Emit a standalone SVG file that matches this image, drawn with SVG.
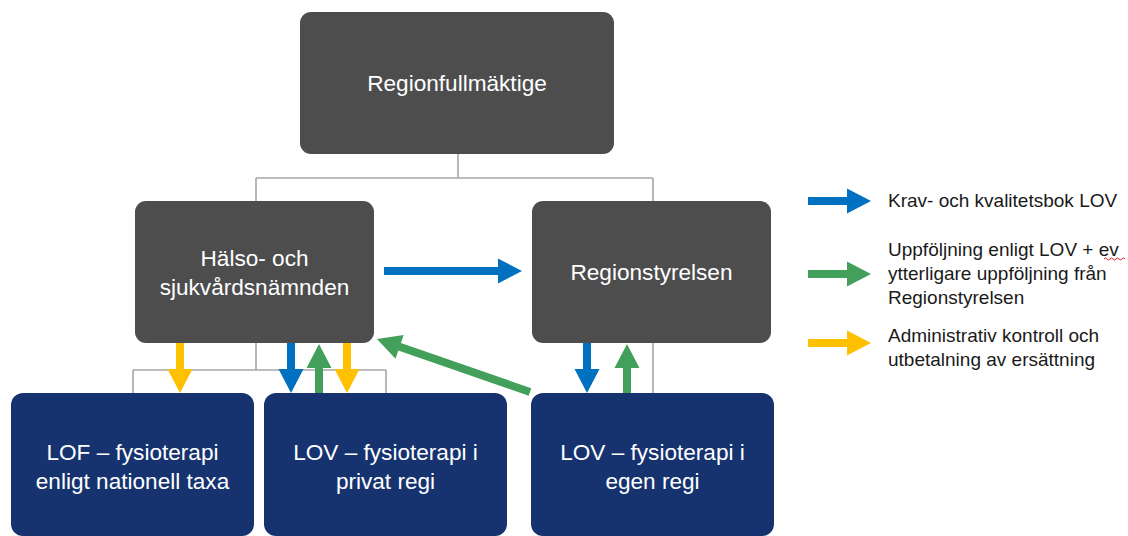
<svg xmlns="http://www.w3.org/2000/svg" width="1128" height="536" viewBox="0 0 1128 536">
<style>
.dark{fill:#4d4d4d}
.navy{fill:#163370}
.nt{font-family:"Liberation Sans",Arial,sans-serif;font-size:22.6px;fill:#ffffff;text-anchor:middle}
.lt{font-family:"Liberation Sans",Arial,sans-serif;font-size:19px;fill:#1a1a1a}
.con{fill:none;stroke:#a6a6a6;stroke-width:1.6}
.blue{fill:#0070c0}
.green{fill:#43a05a}
.yellow{fill:#ffc000}
</style>
<rect width="1128" height="536" fill="#ffffff"/>

<g id="connectors">
<path class="con" d="M458,154 V178 M256,178 H653 M256,178 V201 M653,178 V201"/>
<path class="con" d="M256,343 V370 M133,370 H386 M133,370 V393 M386,370 V393"/>
<path class="con" d="M653,343 V393"/>
</g>

<g id="node-regionfullmaktige">
<rect class="dark" x="300" y="12" width="314" height="142" rx="11"/>
<text class="nt" x="457" y="91">Regionfullmäktige</text>
</g>

<g id="node-halso">
<rect class="dark" x="135" y="201" width="239" height="142" rx="11"/>
<text class="nt" x="254.5" y="266">Hälso- och</text>
<text class="nt" x="254.5" y="295">sjukvårdsnämnden</text>
</g>

<g id="node-regionstyrelsen">
<rect class="dark" x="532" y="201" width="239" height="142" rx="11"/>
<text class="nt" x="651.5" y="280">Regionstyrelsen</text>
</g>

<g id="node-lof">
<rect class="navy" x="11" y="393" width="243" height="143" rx="12"/>
<text class="nt" x="132.5" y="460">LOF – fysioterapi</text>
<text class="nt" x="132.5" y="489">enligt nationell taxa</text>
</g>

<g id="node-lov-privat">
<rect class="navy" x="264" y="393" width="243" height="143" rx="12"/>
<text class="nt" x="385.5" y="460">LOV – fysioterapi i</text>
<text class="nt" x="385.5" y="489">privat regi</text>
</g>

<g id="node-lov-egen">
<rect class="navy" x="531" y="393" width="243" height="143" rx="12"/>
<text class="nt" x="652.5" y="460">LOV – fysioterapi i</text>
<text class="nt" x="652.5" y="489">egen regi</text>
</g>

<g id="flow-arrows">
<polygon class="yellow" points="176,343 184,343 184,369 192.5,369 180,393 167.5,369 176,369"/>
<polygon class="blue" points="287,343 295,343 295,369 303.5,369 291,393 278.5,369 287,369"/>
<polygon class="green" points="315,393 323,393 323,368 331.5,368 319,344 306.5,368 315,368"/>
<polygon class="yellow" points="343,343 351,343 351,369 359.5,369 347,393 334.5,369 343,369"/>
<polygon class="blue" points="583,343 591,343 591,369 599.5,369 587,393 574.5,369 583,369"/>
<polygon class="green" points="623,393 631,393 631,368 639.5,368 627,344 614.5,368 623,368"/>
<polygon class="blue" points="384,267 498,267 498,258.5 522,271 498,283.5 498,275 384,275"/>
<g transform="translate(530,392) rotate(-160.9)">
<polygon class="green" points="0,-4 138,-4 138,-12.5 162,0 138,12.5 138,4 0,4"/>
</g>
</g>

<g id="legend">
<polygon class="blue" points="808,197 847,197 847,188.5 871,201 847,213.5 847,205 808,205"/>
<text class="lt" x="888" y="207">Krav- och kvalitetsbok LOV</text>
<polygon class="green" points="808,270 847,270 847,261.5 871,274 847,286.5 847,278 808,278"/>
<text class="lt" x="888" y="256">Uppföljning enligt LOV + ev</text>
<text class="lt" x="888" y="280">ytterligare uppföljning från</text>
<text class="lt" x="888" y="304">Regionstyrelsen</text>
<path d="M1104,259 q1.5,-2 3,0 t3,0 t3,0 t3,0 t3,0 t3,0 t3,0" fill="none" stroke="#e02020" stroke-width="1"/>
<polygon class="yellow" points="808,339 847,339 847,330.5 871,343 847,355.5 847,347 808,347"/>
<text class="lt" x="888" y="342">Administrativ kontroll och</text>
<text class="lt" x="888" y="366">utbetalning av ersättning</text>
</g>
</svg>
